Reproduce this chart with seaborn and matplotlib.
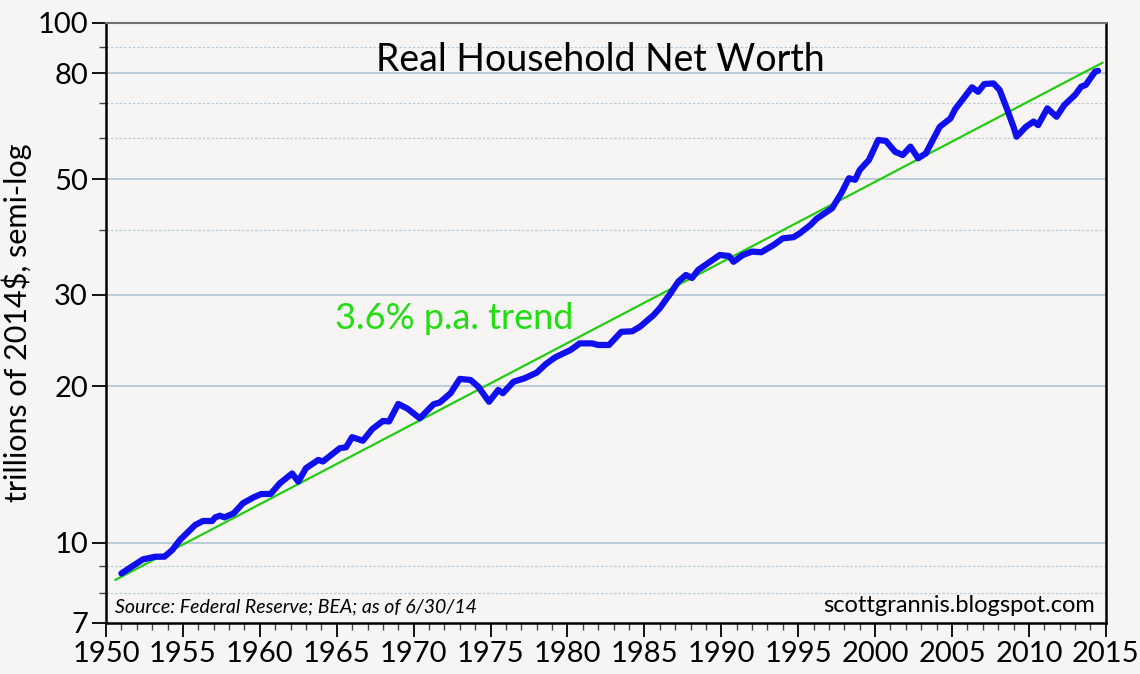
import matplotlib
matplotlib.use("Agg")
import matplotlib.pyplot as plt
import matplotlib.ticker as mticker
import seaborn as sns
import pandas as pd

# Real household net worth, trillions of 2014$
years = [1951.0, 1952.4, 1953.2, 1953.8, 1954.3, 1954.8, 1955.8, 1956.3, 1956.9, 1957.1,
         1957.4, 1957.7, 1958.3, 1958.9, 1959.6, 1960.1, 1960.7, 1961.3, 1962.1, 1962.5,
         1963.0, 1963.8, 1964.1, 1965.2, 1965.6, 1966.0, 1966.7, 1967.3, 1968.0, 1968.4,
         1969.0, 1969.6, 1970.4, 1971.3, 1971.7, 1972.4, 1973.0, 1973.7, 1974.2, 1974.9,
         1975.5, 1975.8, 1976.5, 1977.2, 1978.0, 1978.6, 1979.2, 1980.2, 1980.8, 1981.6,
         1982.0, 1982.7, 1983.5, 1984.2, 1984.7, 1985.6, 1986.0, 1986.7, 1987.2, 1987.7,
         1988.1, 1988.5, 1989.2, 1989.9, 1990.5, 1990.8, 1991.4, 1992.0, 1992.6, 1993.4,
         1994.0, 1994.7, 1995.1, 1995.8, 1996.2, 1997.2, 1997.8, 1998.3, 1998.7, 1999.0,
         1999.6, 2000.2, 2000.7, 2001.3, 2001.8, 2002.3, 2002.8, 2003.3, 2004.2, 2004.9,
         2005.2, 2006.3, 2006.7, 2007.1, 2007.7, 2008.1, 2008.6, 2009.0, 2009.2, 2009.8,
         2010.3, 2010.6, 2011.2, 2011.8, 2012.3, 2013.0, 2013.4, 2013.7, 2014.3, 2014.5]
net_worth = [8.72, 9.28, 9.39, 9.39, 9.67, 10.11, 10.81, 11.0, 11.0, 11.18,
             11.26, 11.18, 11.38, 11.9, 12.22, 12.4, 12.4, 13.0, 13.58, 13.1,
             13.9, 14.42, 14.32, 15.19, 15.25, 15.95, 15.7, 16.52, 17.14, 17.1,
             18.48, 18.1, 17.34, 18.46, 18.6, 19.38, 20.65, 20.55, 19.95, 18.66,
             19.66, 19.38, 20.4, 20.7, 21.23, 22.06, 22.72, 23.47, 24.17, 24.17,
             24.0, 24.0, 25.44, 25.5, 26.0, 27.4, 28.24, 30.17, 31.77, 32.73,
             32.3, 33.47, 34.6, 35.76, 35.6, 34.7, 35.76, 36.3, 36.2, 37.38,
             38.5, 38.7, 39.36, 40.85, 42.0, 43.98, 47.0, 50.25, 49.9, 52.12,
             54.49, 59.54, 59.3, 56.5, 55.7, 57.8, 54.9, 56.1, 63.1, 65.5,
             68.2, 75.2, 73.7, 76.3, 76.5, 74.3, 68.0, 63.1, 60.4, 63.1,
             64.6, 63.6, 68.5, 66.0, 69.5, 72.7, 75.4, 76.0, 80.6, 80.9]

# 3.6% p.a. trend line end points
trend_years = [1950.6, 2014.8]
trend_values = [8.47, 83.9]

major_y = [7, 10, 20, 30, 50, 80, 100]
minor_y = [8, 9, 40, 60, 70, 90]

bg = "#f6f5f3"
grid_col = "#bccbd9"

sns.set_theme(style="white")
plt.rcParams["font.family"] = ["Lato", "DejaVu Sans"]

df = pd.DataFrame({"year": years, "value": net_worth})
trend = pd.DataFrame({"year": trend_years, "value": trend_values})

fig = plt.figure(figsize=(11.4, 6.74), dpi=100, facecolor=bg)
ax = fig.add_axes([0.093, 0.0757, 0.877, 0.8902])
ax.set_facecolor(bg)
ax.set_yscale("log")

for v in [8, 9, 10, 20, 30, 40, 50, 60, 70, 80, 90]:
    if v in major_y:
        ax.axhline(v, color=grid_col, lw=1.4, zorder=0)
    else:
        ax.axhline(v, color=grid_col, lw=0.9, ls=(0, (2, 1.5)), zorder=0)

sns.lineplot(data=trend, x="year", y="value", ax=ax, color="#22cc11", lw=1.6, zorder=2)
sns.lineplot(data=df, x="year", y="value", ax=ax, color="#1010ee", lw=4.5, zorder=3,
             solid_joinstyle="round", solid_capstyle="round")

ax.set_xlim(1950, 2015)
ax.set_ylim(7, 100)
ax.yaxis.set_major_locator(mticker.FixedLocator(major_y))
ax.yaxis.set_minor_locator(mticker.FixedLocator(minor_y))
ax.yaxis.set_major_formatter(mticker.FixedFormatter([str(v) for v in major_y]))
ax.yaxis.set_minor_formatter(mticker.NullFormatter())
ax.xaxis.set_major_locator(mticker.MultipleLocator(5))
ax.xaxis.set_minor_locator(mticker.MultipleLocator(1))

ax.tick_params(axis="both", which="major", direction="out", length=10, width=1.3,
               color="black", labelsize=21, labelcolor="black", pad=3)
ax.tick_params(axis="both", which="minor", direction="out", length=5, width=1.0, color="#444444")
ax.tick_params(axis="x", which="both", bottom=True)
ax.tick_params(axis="y", which="both", left=True)

ax.set_xlabel("")
ax.set_ylabel("trillions of 2014$, semi-log", fontsize=22, color="black", labelpad=4)

for side in ["left", "bottom", "right"]:
    ax.spines[side].set_color("black")
    ax.spines[side].set_linewidth(1.8)
ax.spines["top"].set_color("#707070")
ax.spines["top"].set_linewidth(1.5)

ax.text(0.494, 0.938, "Real Household Net Worth", transform=ax.transAxes,
        ha="center", va="center", fontsize=27, color="black")
ax.text(0.229, 0.508, "3.6% p.a. trend", transform=ax.transAxes,
        ha="left", va="center", fontsize=26, color="#22dd11")
ax.text(0.009, 0.012, "Source: Federal Reserve; BEA; as of 6/30/14", transform=ax.transAxes,
        ha="left", va="bottom", fontsize=14, style="italic", color="black")
ax.text(0.989, 0.012, "scottgrannis.blogspot.com", transform=ax.transAxes,
        ha="right", va="bottom", fontsize=17, color="black")

fig.savefig("out.png", dpi=100, facecolor=bg)
